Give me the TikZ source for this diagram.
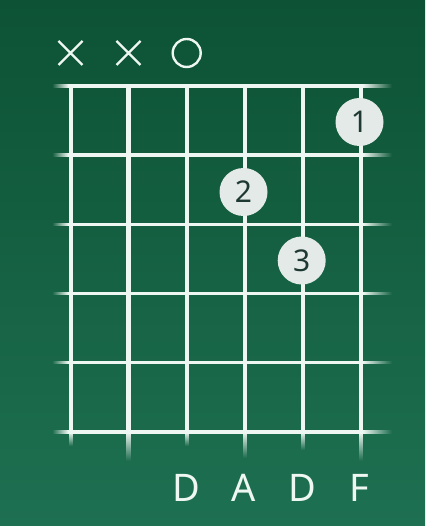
\documentclass[tikz,border=0pt]{standalone}
\usepackage{fontspec}
\setmainfont{Noto Sans}
\usetikzlibrary{fadings,calc}
\definecolor{bgtop}{RGB}{13,82,52}
\definecolor{bgbot}{RGB}{30,112,82}
\definecolor{ln}{RGB}{238,247,242}
\definecolor{dotfill}{RGB}{228,234,231}
\definecolor{dottext}{RGB}{30,56,50}
\tikzfading[name=fadeL, left color=transparent!100, right color=transparent!0]
\tikzfading[name=fadeR, left color=transparent!0, right color=transparent!100]
\tikzfading[name=fadeD, top color=transparent!0, bottom color=transparent!100]
\tikzset{
  fretline/.style={draw=ln, line width=3.2pt},
  stringline/.style={draw=ln, line width=4.4pt},
  mute/.style={draw=ln, line width=2.4pt},
  fingerdot/.style={circle, fill=dotfill, minimum size=48pt, inner sep=0pt,
    text=dottext, font=\fontsize{30}{30}\selectfont},
  notelabel/.style={text=ln, font=\fontsize{38}{38}\selectfont, inner sep=0pt},
}
\begin{document}
\begin{tikzpicture}[x=1pt,y=-1pt]
\fill[top color=bgtop, bottom color=bgbot] (0,0) rectangle (425,526);
\useasboundingbox (0,0) rectangle (425,526);
% frets
\foreach \fy in {86,155,224.3,293.3,362.3,432}{
  \draw[fretline] (68,\fy) -- (363,\fy);
  \fill[ln, path fading=fadeL] (52,\fy-1.6) rectangle (68,\fy+1.6);
  \fill[ln, path fading=fadeR] (363,\fy-1.6) rectangle (392,\fy+1.6);
}
% strings
\foreach \sx/\se in {70.7/446,128.3/461,186.7/446,245/458,302.7/450,360.7/461}{
  \draw[stringline] (\sx,84.4) -- (\sx,432);
  \fill[ln, path fading=fadeD] (\sx-2.2,432) rectangle (\sx+2.2,\se);
}
% muted / open markers
\coordinate (m1) at (70.5,53);
\coordinate (m2) at (128.5,53);
\draw[mute] ($(m1)+(-12,-12)$) -- ($(m1)+(12,12)$) ($(m1)+(-12,12)$) -- ($(m1)+(12,-12)$);
\draw[mute] ($(m2)+(-12,-12)$) -- ($(m2)+(12,12)$) ($(m2)+(-12,12)$) -- ($(m2)+(12,-12)$);
\node[circle, draw=ln, line width=2.4pt, minimum size=28pt, inner sep=0pt] (open3) at (186.7,53) {};
% finger dots
\node[fingerdot] (d1) at (359.5,122) {1};
\node[fingerdot] (d2) at (243.5,192) {2};
\node[fingerdot] (d3) at (301.7,260.5) {3};
% note labels
\node[notelabel] (n3) at (186.7,488) {D};
\node[notelabel] (n4) at (244,488) {A};
\node[notelabel] (n5) at (302,488) {D};
\node[notelabel] (n6) at (359,488) {F};
\end{tikzpicture}
\end{document}
